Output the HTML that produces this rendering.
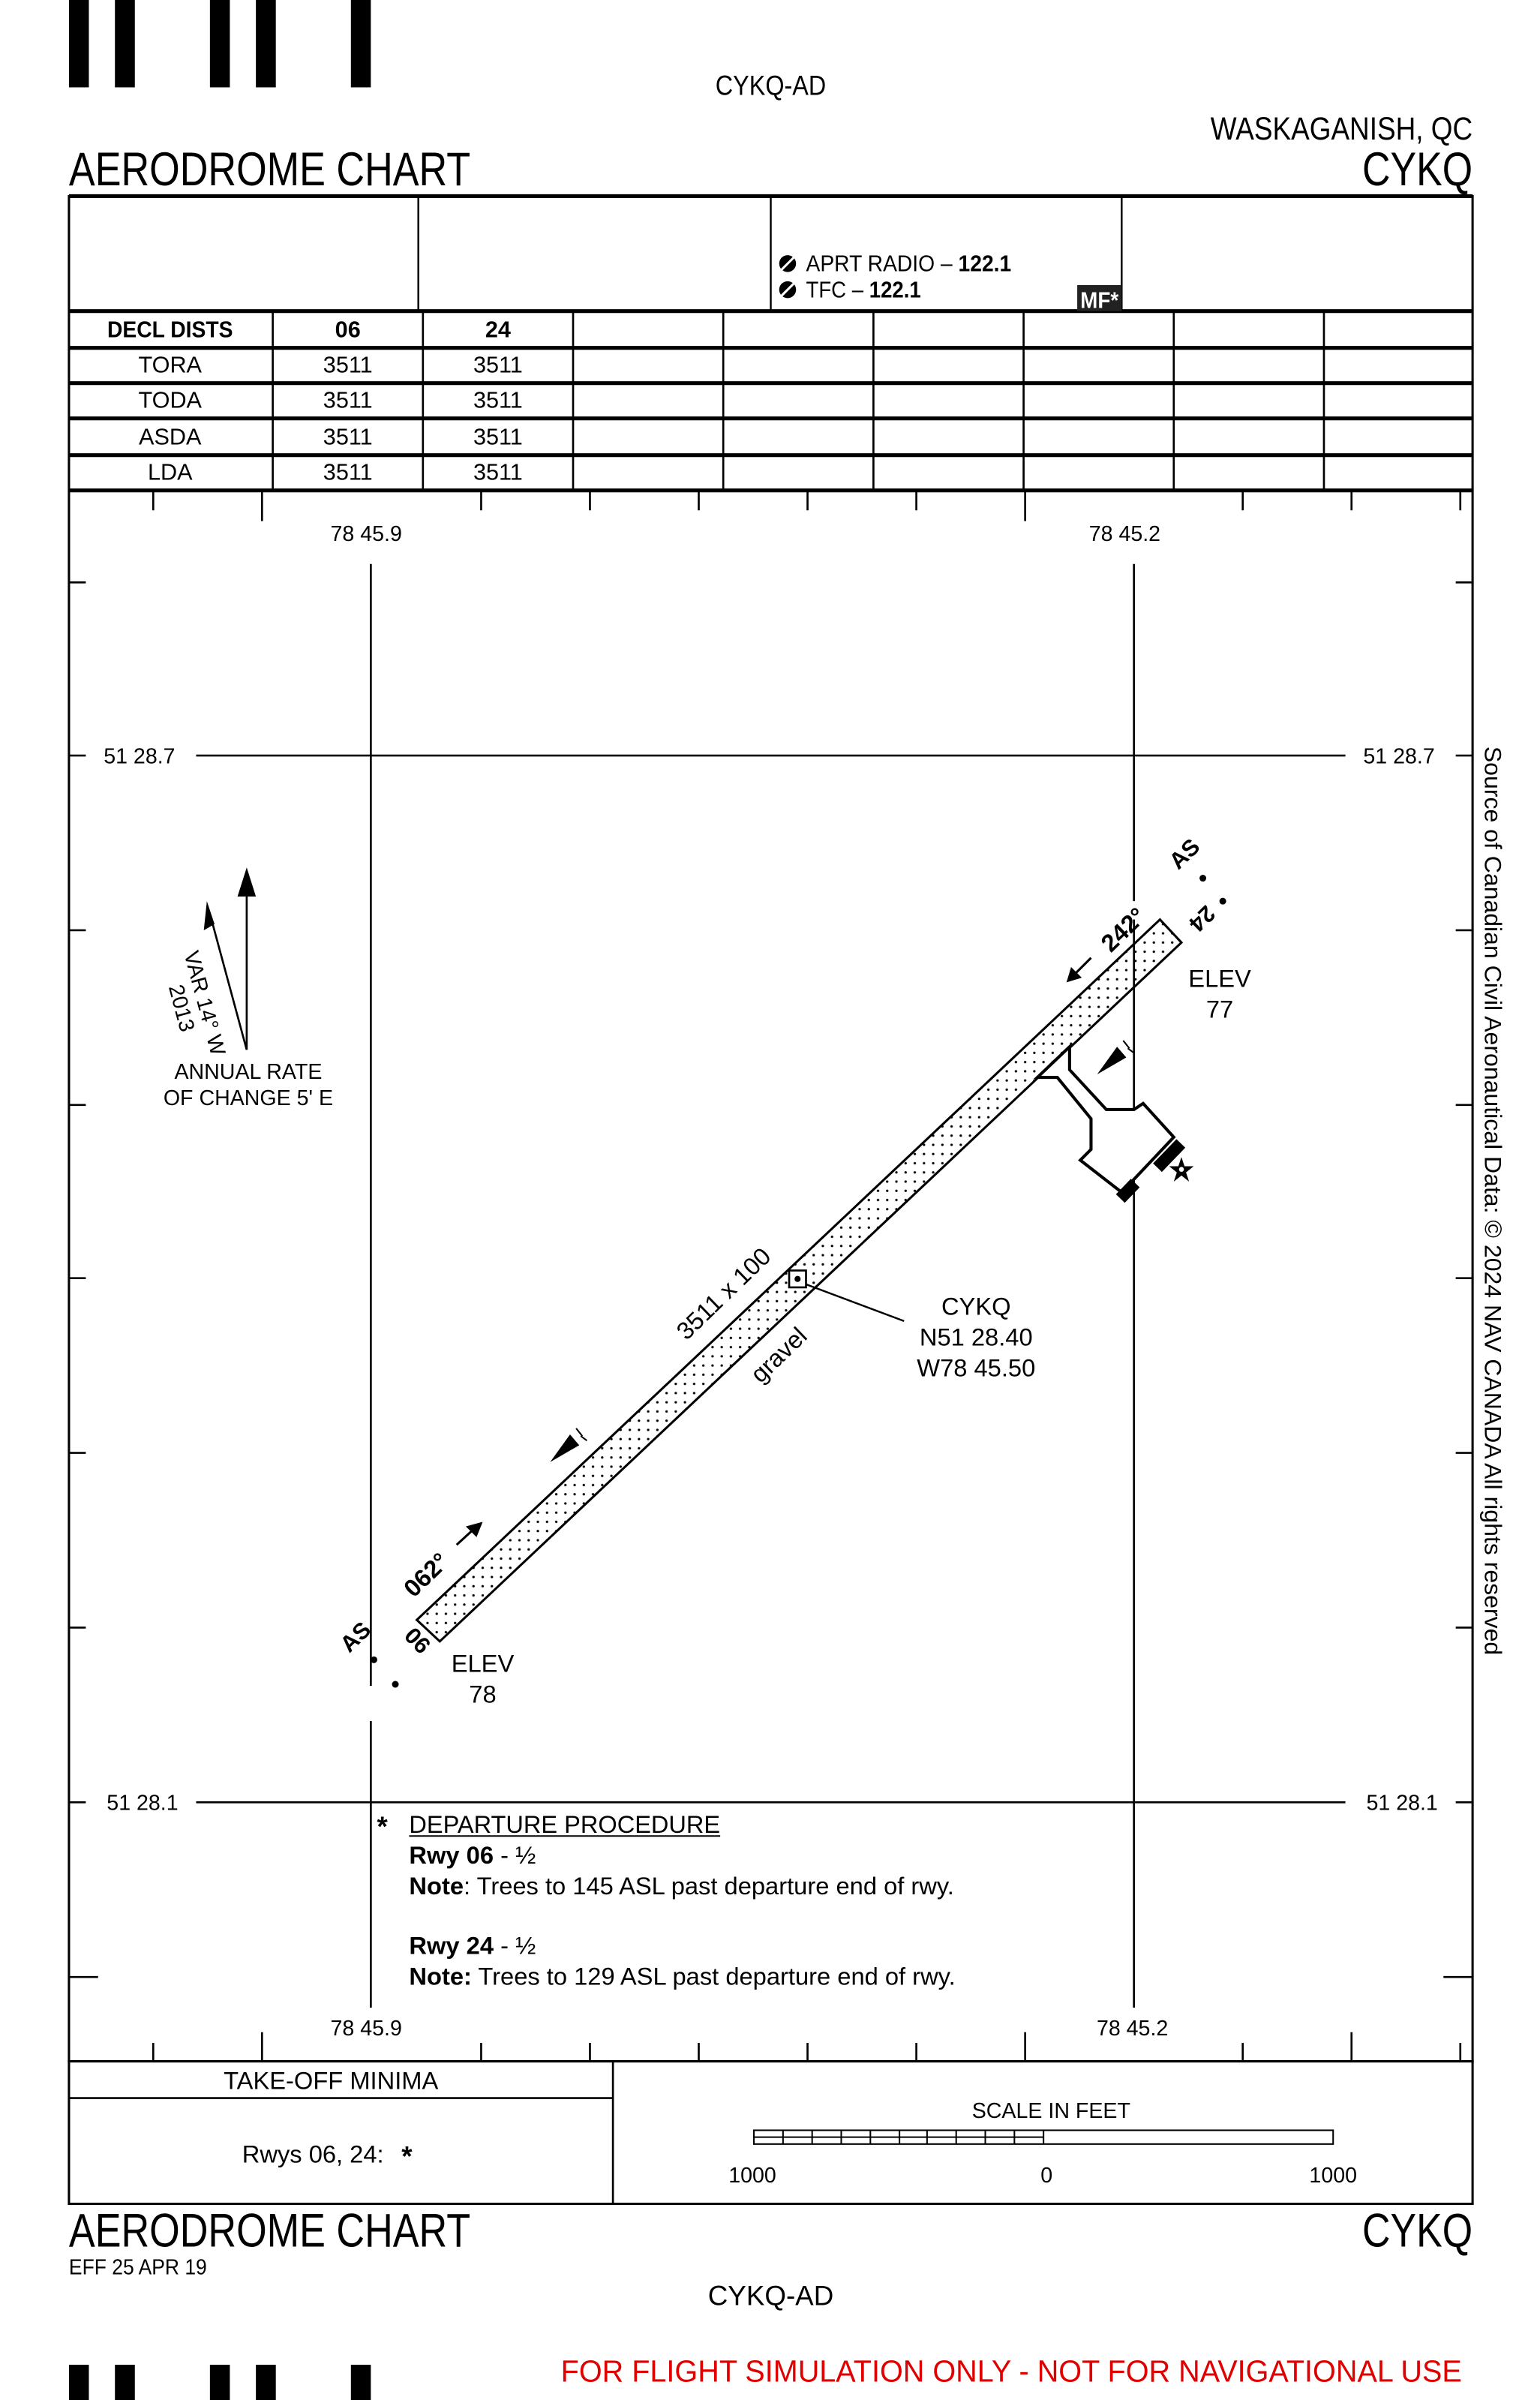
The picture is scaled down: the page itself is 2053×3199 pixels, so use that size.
<!DOCTYPE html>
<html><head><meta charset="utf-8"><style>
html,body{margin:0;padding:0;background:#fff;}
svg{display:block;}
text{font-family:"Liberation Sans",sans-serif;fill:#000;}
</style></head><body>
<svg width="2053" height="3199" viewBox="0 0 1005 1566" preserveAspectRatio="none" xmlns="http://www.w3.org/2000/svg">
<g fill="#000">
<rect x="45" y="0" width="13" height="57"/><rect x="75" y="0" width="13" height="57"/>
<rect x="137" y="0" width="13" height="57"/><rect x="167" y="0" width="13" height="57"/>
<rect x="229" y="0" width="13" height="57"/>
<rect x="45" y="1543" width="13" height="25"/><rect x="75" y="1543" width="13" height="25"/>
<rect x="137" y="1543" width="13" height="25"/><rect x="167" y="1543" width="13" height="25"/>
<rect x="229" y="1543" width="13" height="25"/>
</g>
<text x="503" y="62" font-size="18" text-anchor="middle" transform="translate(503 0) scale(0.88 1) translate(-503 0)">CYKQ-AD</text>
<text x="961" y="91" font-size="21" text-anchor="end" textLength="171" lengthAdjust="spacingAndGlyphs">WASKAGANISH, QC</text>
<text x="45" y="121" font-size="31" textLength="262" lengthAdjust="spacingAndGlyphs">AERODROME CHART</text>
<text x="961" y="121" font-size="31" text-anchor="end" textLength="72" lengthAdjust="spacingAndGlyphs">CYKQ</text>

<g stroke="#000" fill="none">
<rect x="45" y="128" width="916" height="1217" stroke-width="1.5"/>
<line x1="45" y1="128" x2="961" y2="128" stroke-width="2.5"/>
<line x1="273" y1="128" x2="273" y2="203" stroke-width="1.2"/>
<line x1="503" y1="128" x2="503" y2="203" stroke-width="1.2"/>
<line x1="732" y1="128" x2="732" y2="203" stroke-width="1.2"/>
<g stroke-width="2.5">
<line x1="45" y1="203" x2="961" y2="203"/><line x1="45" y1="227" x2="961" y2="227"/>
<line x1="45" y1="250" x2="961" y2="250"/><line x1="45" y1="273" x2="961" y2="273"/>
<line x1="45" y1="297" x2="961" y2="297"/><line x1="45" y1="320" x2="961" y2="320"/>
</g>
<g stroke-width="1.3">
<line x1="178" y1="203" x2="178" y2="320"/><line x1="276" y1="203" x2="276" y2="320"/>
<line x1="374" y1="203" x2="374" y2="320"/><line x1="472" y1="203" x2="472" y2="320"/>
<line x1="570" y1="203" x2="570" y2="320"/><line x1="668" y1="203" x2="668" y2="320"/>
<line x1="766" y1="203" x2="766" y2="320"/><line x1="864" y1="203" x2="864" y2="320"/>
</g>
</g>
<circle cx="514" cy="172" r="5.5" fill="#000"/><circle cx="514" cy="189" r="5.5" fill="#000"/>
<line x1="510" y1="176" x2="518" y2="168" stroke="#fff" stroke-width="1.5"/>
<line x1="510" y1="193" x2="518" y2="185" stroke="#fff" stroke-width="1.5"/>
<text x="526" y="177" font-size="15" textLength="134" lengthAdjust="spacingAndGlyphs">APRT RADIO – <tspan font-weight="bold">122.1</tspan></text>
<text x="526" y="194" font-size="15" textLength="75" lengthAdjust="spacingAndGlyphs">TFC – <tspan font-weight="bold">122.1</tspan></text>
<rect x="703" y="186" width="29" height="17" fill="#222"/>
<text x="705" y="201" font-size="15" font-weight="bold" style="fill:#fff" textLength="25" lengthAdjust="spacingAndGlyphs">MF*</text>
<g font-size="15" text-anchor="middle">
<text x="111" y="220" font-weight="bold" textLength="82" lengthAdjust="spacingAndGlyphs">DECL DISTS</text>
<text x="227" y="220" font-weight="bold">06</text><text x="325" y="220" font-weight="bold">24</text>
<text x="111" y="243">TORA</text><text x="227" y="243">3511</text><text x="325" y="243">3511</text>
<text x="111" y="266">TODA</text><text x="227" y="266">3511</text><text x="325" y="266">3511</text>
<text x="111" y="290">ASDA</text><text x="227" y="290">3511</text><text x="325" y="290">3511</text>
<text x="111" y="313">LDA</text><text x="227" y="313">3511</text><text x="325" y="313">3511</text>
</g>

<g stroke="#000" stroke-width="1.3">
<line x1="100" y1="320" x2="100" y2="333"/><line x1="171" y1="320" x2="171" y2="340"/>
<line x1="314" y1="320" x2="314" y2="333"/><line x1="385" y1="320" x2="385" y2="333"/>
<line x1="456" y1="320" x2="456" y2="333"/><line x1="527" y1="320" x2="527" y2="333"/>
<line x1="598" y1="320" x2="598" y2="333"/><line x1="669" y1="320" x2="669" y2="340"/>
<line x1="811" y1="320" x2="811" y2="333"/><line x1="882" y1="320" x2="882" y2="333"/>
<line x1="953" y1="320" x2="953" y2="333"/>
<line x1="100" y1="1345" x2="100" y2="1333"/><line x1="171" y1="1345" x2="171" y2="1326"/>
<line x1="314" y1="1345" x2="314" y2="1333"/><line x1="385" y1="1345" x2="385" y2="1333"/>
<line x1="456" y1="1345" x2="456" y2="1333"/><line x1="527" y1="1345" x2="527" y2="1333"/>
<line x1="598" y1="1345" x2="598" y2="1333"/><line x1="669" y1="1345" x2="669" y2="1326"/>
<line x1="811" y1="1345" x2="811" y2="1333"/><line x1="882" y1="1345" x2="882" y2="1326"/>
<line x1="953" y1="1345" x2="953" y2="1333"/>
<line x1="45" y1="380" x2="56" y2="380"/><line x1="45" y1="607" x2="56" y2="607"/>
<line x1="45" y1="721" x2="56" y2="721"/><line x1="45" y1="834" x2="56" y2="834"/>
<line x1="45" y1="948" x2="56" y2="948"/><line x1="45" y1="1062" x2="56" y2="1062"/>
<line x1="45" y1="1290" x2="64" y2="1290"/>
<line x1="961" y1="380" x2="950" y2="380"/><line x1="961" y1="607" x2="950" y2="607"/>
<line x1="961" y1="721" x2="950" y2="721"/><line x1="961" y1="834" x2="950" y2="834"/>
<line x1="961" y1="948" x2="950" y2="948"/><line x1="961" y1="1062" x2="950" y2="1062"/>
<line x1="961" y1="1290" x2="942" y2="1290"/>
<line x1="45" y1="493" x2="56" y2="493"/><line x1="128" y1="493" x2="878" y2="493"/><line x1="950" y1="493" x2="961" y2="493"/>
<line x1="45" y1="1176" x2="56" y2="1176"/><line x1="128" y1="1176" x2="878" y2="1176"/><line x1="950" y1="1176" x2="961" y2="1176"/>
<line x1="242" y1="368" x2="242" y2="1100"/><line x1="242" y1="1123" x2="242" y2="1310"/>
<line x1="740" y1="368" x2="740" y2="588"/><line x1="740" y1="600" x2="740" y2="1310"/>
</g>
<g font-size="14" text-anchor="middle">
<text x="239" y="353">78 45.9</text><text x="734" y="353">78 45.2</text>
<text x="239" y="1328">78 45.9</text><text x="739" y="1328">78 45.2</text>
<text x="91" y="498">51 28.7</text><text x="913" y="498">51 28.7</text>
<text x="93" y="1181">51 28.1</text><text x="915" y="1181">51 28.1</text>
</g>
<text transform="translate(969 487) rotate(90)" font-size="15.5" textLength="593" lengthAdjust="spacingAndGlyphs">Source of Canadian Civil Aeronautical Data: © 2024 NAV CANADA All rights reserved</text>

<defs>
<pattern id="dots" width="6" height="6" patternUnits="userSpaceOnUse"><circle cx="3" cy="3" r="0.8" fill="#000"/></pattern>
</defs>
<g stroke="#000" stroke-width="1.3">
<line x1="161" y1="685" x2="161" y2="580"/>
<line x1="161" y1="685" x2="138" y2="600"/>
</g>
<polygon points="161,566 155,585 167,585" fill="#000"/>
<polygon points="135,588 133,607 140,603" fill="#000"/>
<text transform="translate(120 622) rotate(75)" font-size="14">VAR 14° W</text>
<text transform="translate(110 644) rotate(75)" font-size="14">2013</text>
<text x="162" y="704" font-size="14" text-anchor="middle">ANNUAL RATE</text>
<text x="162" y="721" font-size="14" text-anchor="middle">OF CHANGE 5' E</text>

<polygon points="272,1057 757,600 771,615 287,1071" fill="url(#dots)" stroke="#000" stroke-width="1.5"/>
<polygon points="677,703 690,703 712,730 712,750 705,757 732,778 766,742 746,720 740,724 722,724 698,698 698,683" fill="#fff" stroke="#000" stroke-width="2"/>
<rect x="752" y="750" width="22" height="8" fill="#000" transform="rotate(-46 763 754)"/>
<rect x="729" y="773" width="14" height="8" fill="#000" transform="rotate(-46 736 777)"/>
<polygon points="771,755 773,761 779,761 774,765 776,771 771,767 766,771 768,765 763,761 769,761" fill="#000"/>
<circle cx="771" cy="763" r="1.6" fill="#fff"/>
<rect x="515" y="829" width="11" height="11" fill="#fff" stroke="#000" stroke-width="1.3"/>
<circle cx="520.5" cy="834.5" r="2" fill="#000"/>
<line x1="526" y1="838" x2="590" y2="862" stroke="#000" stroke-width="1.2"/>
<g font-size="16" text-anchor="middle">
<text x="637" y="858">CYKQ</text><text x="637" y="878">N51 28.40</text><text x="637" y="898">W78 45.50</text>
<text x="796" y="644">ELEV</text><text x="796" y="664">77</text>
<text x="315" y="1091">ELEV</text><text x="315" y="1111">78</text>
</g>
<text transform="translate(476 848) rotate(-44)" font-size="16" text-anchor="middle">3511 x 100</text>
<text transform="translate(512 888) rotate(-44)" font-size="16" text-anchor="middle">gravel</text>
<text transform="translate(725 622) rotate(-44)" font-size="16" font-weight="bold">242°</text>
<line x1="712" y1="625" x2="700" y2="637" stroke="#000" stroke-width="1.5"/>
<polygon points="696,641 699,631 706,638" fill="#000"/>
<text transform="translate(270 1043) rotate(-44)" font-size="16" font-weight="bold">062°</text>
<line x1="298" y1="1008" x2="310" y2="997" stroke="#000" stroke-width="1.5"/>
<polygon points="315,993 304,996 311,1003" fill="#000"/>
<text transform="translate(769 568) rotate(-44)" font-size="15" font-weight="bold">AS</text>
<text transform="translate(787 590) rotate(136)" font-size="15" font-weight="bold">24</text>
<circle cx="785" cy="573" r="2.2" fill="#000"/><circle cx="798" cy="588" r="2.2" fill="#000"/>
<text transform="translate(228 1079) rotate(-44)" font-size="15" font-weight="bold">AS</text>
<text transform="translate(263 1068) rotate(46)" font-size="15" font-weight="bold">06</text>
<circle cx="244" cy="1083" r="2.2" fill="#000"/><circle cx="258" cy="1099" r="2.2" fill="#000"/>
<polygon points="716,701 729,683 735,690" fill="#000"/>
<line x1="733" y1="679" x2="737" y2="684" stroke="#000" stroke-width="1"/>
<line x1="736" y1="684" x2="740" y2="687" stroke="#000" stroke-width="1"/>
<polygon points="359,954 372,936 378,943" fill="#000"/>
<line x1="376" y1="932" x2="380" y2="937" stroke="#000" stroke-width="1"/>
<line x1="379" y1="937" x2="383" y2="940" stroke="#000" stroke-width="1"/>

<text x="246" y="1198" font-size="18" font-weight="bold">*</text>
<text x="267" y="1196" font-size="16" textLength="203" lengthAdjust="spacingAndGlyphs">DEPARTURE PROCEDURE</text>
<line x1="267" y1="1198" x2="470" y2="1198" stroke="#000" stroke-width="1"/>
<g font-size="16">
<text x="267" y="1216"><tspan font-weight="bold">Rwy 06</tspan> - ½</text>
<text x="267" y="1236"><tspan font-weight="bold">Note</tspan>: Trees to 145 ASL past departure end of rwy.</text>
<text x="267" y="1275"><tspan font-weight="bold">Rwy 24</tspan> - ½</text>
<text x="267" y="1295"><tspan font-weight="bold">Note:</tspan> Trees to 129 ASL past departure end of rwy.</text>
</g>

<g stroke="#000" fill="none">
<rect x="45" y="1345" width="916" height="93" stroke-width="1.5"/>
<line x1="400" y1="1345" x2="400" y2="1438" stroke-width="1.3"/>
<line x1="45" y1="1369" x2="400" y2="1369" stroke-width="1.3"/>
<rect x="492" y="1390" width="378" height="9" stroke-width="1"/>
<line x1="492" y1="1394.5" x2="681" y2="1394.5" stroke-width="1"/>
<g stroke-width="1">
<line x1="511" y1="1390" x2="511" y2="1399"/><line x1="530" y1="1390" x2="530" y2="1399"/>
<line x1="549" y1="1390" x2="549" y2="1399"/><line x1="568" y1="1390" x2="568" y2="1399"/>
<line x1="587" y1="1390" x2="587" y2="1399"/><line x1="605" y1="1390" x2="605" y2="1399"/>
<line x1="624" y1="1390" x2="624" y2="1399"/><line x1="643" y1="1390" x2="643" y2="1399"/>
<line x1="662" y1="1390" x2="662" y2="1399"/><line x1="681" y1="1390" x2="681" y2="1399"/>
</g>
</g>
<text x="216" y="1363" font-size="16" text-anchor="middle">TAKE-OFF MINIMA</text>
<text x="158" y="1411" font-size="16">Rwys 06, 24:</text>
<text x="262" y="1413" font-size="18" font-weight="bold">*</text>
<text x="686" y="1382" font-size="14" text-anchor="middle">SCALE IN FEET</text>
<g font-size="14" text-anchor="middle">
<text x="491" y="1424">1000</text><text x="683" y="1424">0</text><text x="870" y="1424">1000</text>
</g>

<text x="45" y="1466" font-size="31" textLength="262" lengthAdjust="spacingAndGlyphs">AERODROME CHART</text>
<text x="961" y="1466" font-size="31" text-anchor="end" textLength="72" lengthAdjust="spacingAndGlyphs">CYKQ</text>
<text x="45" y="1484" font-size="14" textLength="90" lengthAdjust="spacingAndGlyphs">EFF 25 APR 19</text>
<text x="503" y="1504" font-size="18" text-anchor="middle">CYKQ-AD</text>
<text x="954" y="1554" font-size="20" text-anchor="end" style="fill:#e00000" textLength="588" lengthAdjust="spacingAndGlyphs">FOR FLIGHT SIMULATION ONLY - NOT FOR NAVIGATIONAL USE</text>
</svg>
</body></html>
